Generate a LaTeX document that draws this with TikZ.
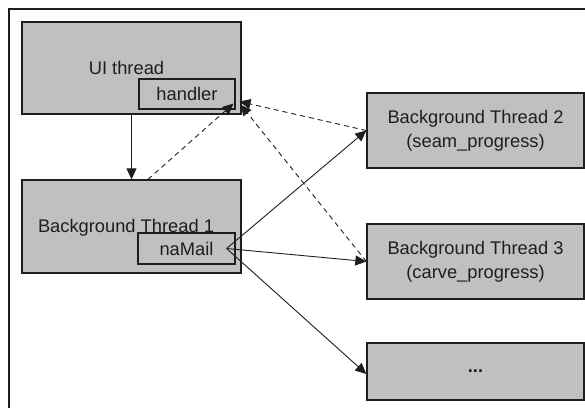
\documentclass[tikz,border=0pt]{standalone}
\usepackage{fontspec}
\setmainfont{Liberation Sans}
\usetikzlibrary{arrows.meta,calc}
\definecolor{boxgray}{RGB}{192,192,193}
\definecolor{ink}{RGB}{30,30,30}
\begin{document}
\begin{tikzpicture}[x=1pt,y=-1pt,
  box/.style={draw=ink, fill=boxgray, line width=1.3pt, inner sep=0pt, text=ink,
    font=\fontsize{18.3}{24}\selectfont, align=center},
  sub/.style={draw=ink, fill=boxgray, line width=1.1pt, inner sep=0pt, text=ink,
    font=\fontsize{18.3}{24}\selectfont},
  lbl/.style={text=ink, font=\fontsize{18.3}{24}\selectfont, inner sep=0pt},
  arr/.style={-{Triangle[length=11pt,width=10pt]}, line width=0.9pt, draw=ink},
  darr/.style={arr, dash pattern=on 5pt off 4pt}]
\useasboundingbox (0,0) rectangle (585,407);
\draw[line width=1.2pt, ink] (9,420) -- (9,9) -- (600,9);

\node[box, minimum width=219pt, minimum height=92pt] (ui) at (131.5,68) {};
\node[lbl, anchor=base] (uitxt) at (126.5,74) {UI thread};
\node[sub, minimum width=96pt, minimum height=30pt] (handler) at (187,94) {handler};

\node[box, minimum width=219pt, minimum height=93pt] (bt1) at (131.5,226.5) {};
\node[lbl, anchor=base] (bt1txt) at (126,232) {Background Thread 1};
\node[sub, minimum width=97pt, minimum height=31pt] (namail) at (186.5,248.5) {naMail};

\node[box, minimum width=217pt, minimum height=75pt] (bt2) at (475.5,130.5) {Background Thread 2\\(seam\_progress)};
\node[box, minimum width=217pt, minimum height=75pt] (bt3) at (475.5,261.5) {Background Thread 3\\(carve\_progress)};
\node[box, minimum width=217pt, minimum height=57pt] (dots) at (475.5,371.5) {\textbf{...}};

\coordinate (nm) at ([xshift=-9pt]namail.east);

\draw[arr] (ui.south) -- (bt1.north);
\draw[darr] ([xshift=16.5pt]bt1.north) -- ([xshift=-2pt,yshift=6pt]handler.south east);
\draw[darr] (bt2.west) -- ([xshift=4pt,yshift=8pt]handler.south east);
\draw[darr] (bt3.west) -- ([xshift=5pt,yshift=5pt]handler.south east);
\draw[arr] (nm) -- (bt2.west);
\draw[arr] (nm) -- (bt3.west);
\draw[arr] (nm) -- ([yshift=-2.5pt]dots.west);
\end{tikzpicture}
\end{document}
